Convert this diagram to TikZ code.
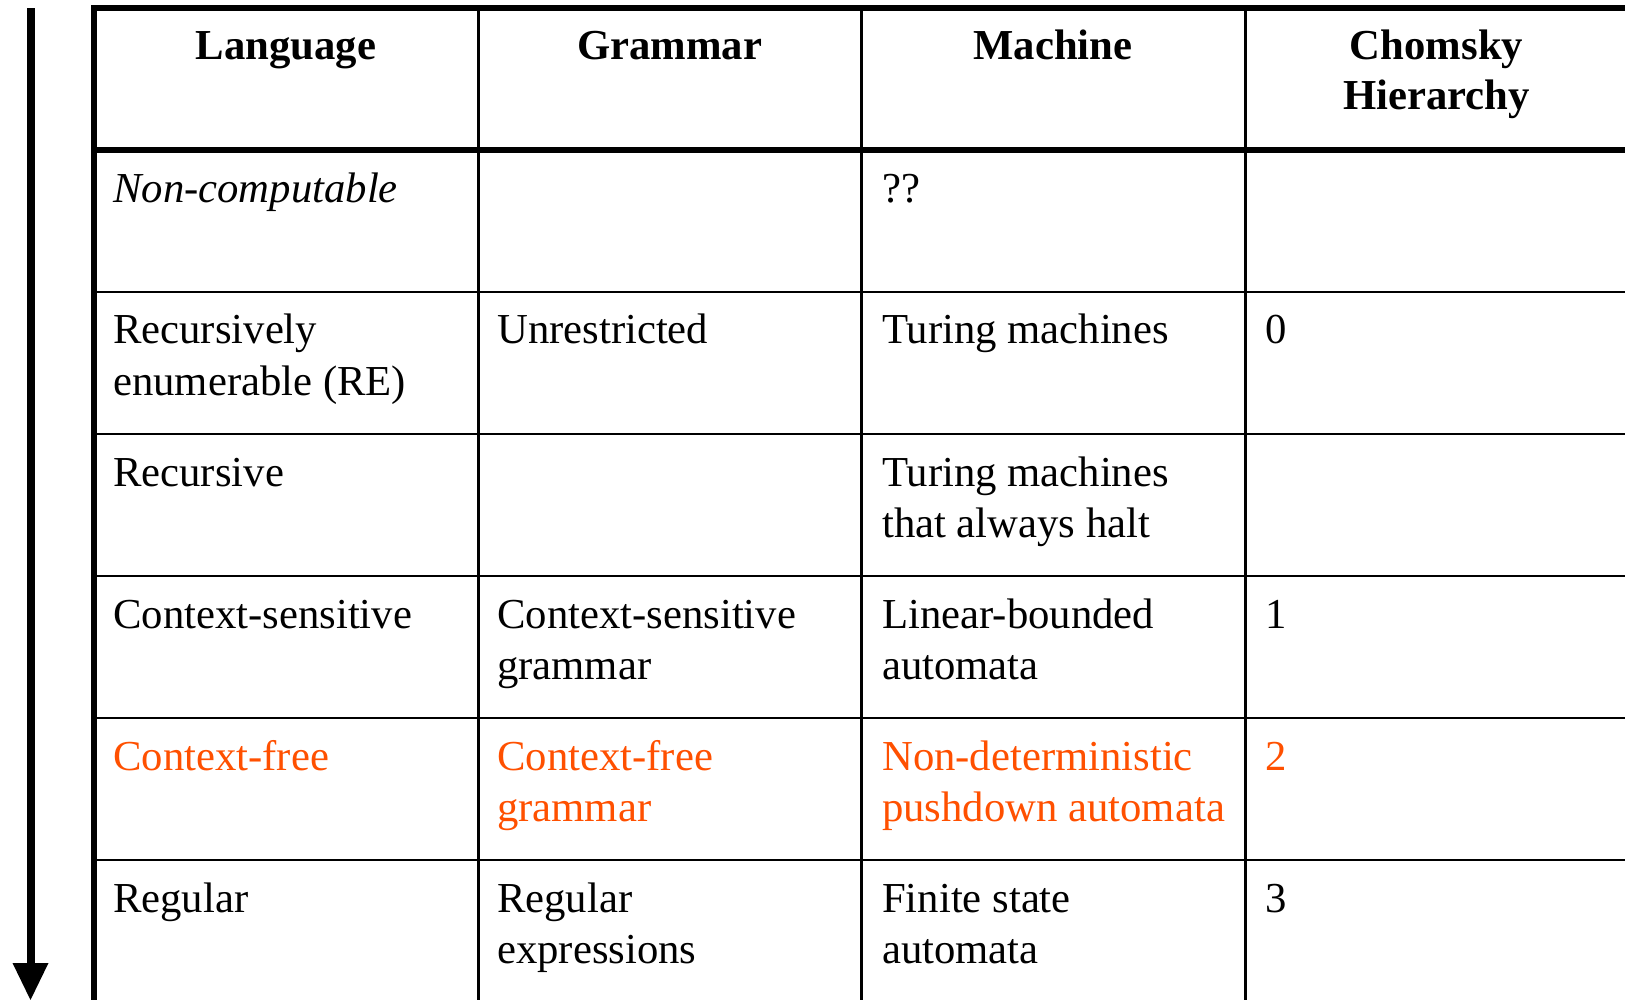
\documentclass[tikz,border=0pt]{standalone}
\usepackage{fontspec}
\setmainfont{Liberation Serif}
\definecolor{cforange}{RGB}{255,80,0}
\begin{document}
\begin{tikzpicture}[x=1pt,y=-1pt,
  txt/.style={anchor=base west,inner sep=0pt,font=\fontsize{42.7}{51}\selectfont},
  hdr/.style={anchor=base,inner sep=0pt,font=\fontsize{42.7}{51}\selectfont\bfseries},
  thick border/.style={line width=5.8pt,line join=miter},
  inner rule/.style={line width=2.8pt}]
\useasboundingbox (0,0) rectangle (1625,1000);
\clip (0,0) rectangle (1625,1000);
% arrow
\coordinate (atop) at (30.5,8);
\coordinate (abot) at (30.5,965);
\coordinate (atip) at (30.5,1000);
\fill (26.5,8) rectangle (34.5,966);
\fill (12.5,963) -- (48.5,963) -- (atip) -- cycle;
% column rules
\foreach \cx/\nm in {478/c1,861/c2,1245/c3}{
  \coordinate (\nm t) at (\cx,8);
  \coordinate (\nm b) at (\cx,1010);
  \draw[line width=3pt] (\nm t) -- (\nm b);
}
% row rules
\foreach \ry/\nm in {292/r1,434/r2,576/r3,718/r4,860/r5}{
  \coordinate (\nm l) at (94,\ry);
  \coordinate (\nm r) at (1640,\ry);
  \draw[inner rule] (\nm l) -- (\nm r);
}
% outer border
\coordinate (tr) at (1640,8);
\coordinate (tl) at (94,8);
\coordinate (bl) at (94,1010);
\draw[thick border] (tr) -- (tl) -- (bl);
\coordinate (hl) at (94,150);
\coordinate (hr) at (1640,150);
\draw[line width=6pt] (hl) -- (hr);
% header
\node[hdr] (hlang) at (286,60) {Language};
\node[hdr] (hgram) at (669.5,60) {Grammar};
\node[hdr] (hmach) at (1053,60) {Machine};
\node[hdr] (hch1) at (1436.5,60) {Chomsky};
\node[hdr] (hch2) at (1436.5,110) {Hierarchy};
% row 1
\node[txt,font=\fontsize{42.7}{51}\selectfont\itshape] (l1) at (113,203) {Non-computable};
\node[txt] (m1) at (882,203) {??};
% row 2
\node[txt] (l2a) at (113,344) {Recursively};
\node[txt] (l2b) at (113,395) {enumerable (RE)};
\node[txt] (g2) at (497,344) {Unrestricted};
\node[txt] (m2) at (882,344) {Turing machines};
\node[txt] (h2) at (1265,344) {0};
% row 3
\node[txt] (l3) at (113,486) {Recursive};
\node[txt] (m3a) at (882,486) {Turing machines};
\node[txt] (m3b) at (882,537) {that always halt};
% row 4
\node[txt] (l4) at (113,628) {Context-sensitive};
\node[txt] (g4a) at (497,628) {Context-sensitive};
\node[txt] (g4b) at (497,679) {grammar};
\node[txt] (m4a) at (882,628) {Linear-bounded};
\node[txt] (m4b) at (882,679) {automata};
\node[txt] (h4) at (1265,628) {1};
% row 5
\begin{scope}[every node/.append style={text=cforange}]
\node[txt] (l5) at (113,770) {Context-free};
\node[txt] (g5a) at (497,770) {Context-free};
\node[txt] (g5b) at (497,821) {grammar};
\node[txt] (m5a) at (882,770) {Non-deterministic};
\node[txt] (m5b) at (882,821) {pushdown automata};
\node[txt] (h5) at (1265,770) {2};
\end{scope}
% row 6
\node[txt] (l6) at (113,912) {Regular};
\node[txt] (g6a) at (497,912) {Regular};
\node[txt] (g6b) at (497,963) {expressions};
\node[txt] (m6a) at (882,912) {Finite state};
\node[txt] (m6b) at (882,963) {automata};
\node[txt] (h6) at (1265,912) {3};
\end{tikzpicture}
\end{document}
